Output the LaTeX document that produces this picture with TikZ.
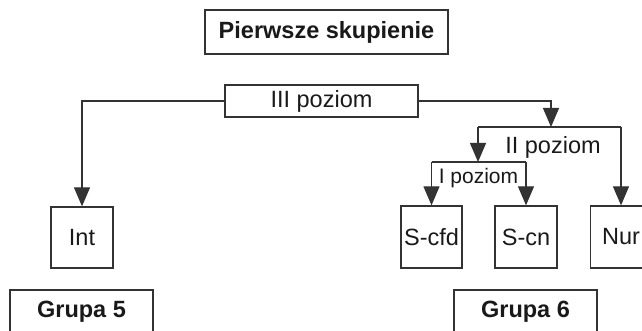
\documentclass[tikz,border=0pt]{standalone}
\usepackage{fontspec}
\setmainfont{Liberation Sans}
\usetikzlibrary{arrows.meta}

\begin{document}
\begin{tikzpicture}[x=1pt,y=-1pt,
    box/.style={draw=black!80, line width=1.3pt, inner sep=0pt, text=black!90},
    lvl/.style={inner sep=0pt, text=black!90},
    conn/.style={draw=black!80, line width=1.2pt},
    arr/.style={conn, -{Triangle[length=19pt,width=16pt]}}]
      \clip (0,0) rectangle (642,331);
      \useasboundingbox (0,0) rectangle (642,331);
      \fontsize{23.5}{28}\selectfont

      % top
      \node (skup) at (326.5,32)  [box, minimum width=243pt, minimum height=44pt, font=\bfseries] {Pierwsze skupienie};

      % III poziom
      \node (lvl3) at (321.5,101)  [box, minimum width=193pt, minimum height=32pt] {III poziom};

      % leaves
      \node (int) at (82,237.5)  [box, minimum width=62pt, minimum height=61pt] {Int};
      \node (scfd) at (431.5,237)  [box, minimum width=61pt, minimum height=62pt] {S-cfd};
      \node (scn) at (526,237)  [box, minimum width=62pt, minimum height=62pt] {S-cn};
      \node (nur) at (621,237)  [box, minimum width=61pt, minimum height=62pt] {Nur};

      % groups
      \node (gr5) at (81.5,312)  [box, minimum width=143pt, minimum height=44pt, font=\bfseries] {Grupa 5};
      \node (gr6) at (525.5,312)  [box, minimum width=143pt, minimum height=44pt, font=\bfseries] {Grupa 6};

      % II poziom, I poziom
      \coordinate (b2) at (551,127);
      \coordinate (b2l) at (478,127);
      \coordinate (b2r) at (621,127);
      \coordinate (b1) at (478,162);
      \coordinate (b1l) at (431.5,162);
      \coordinate (b1r) at (526,162);
      \node (lvl2) at (553,154)  [lvl, anchor=base] {II poziom};
      \node (lvl1) at (478.5,184)  [lvl, anchor=base, font=\fontsize{21}{25}\selectfont] {I poziom};

      \draw[arr] (lvl3.west) -| (int.north);
      \draw[arr] (lvl3.east) -| (b2);
      \draw[conn] (b2l) -- (b2r);
      \draw[arr] (b2l) -- (b1);
      \draw[arr] (b2r) -- (nur.north);
      \draw[conn] (b1l) -- (b1r);
      \draw[arr] (b1l) -- (scfd.north);
      \draw[arr] (b1r) -- (scn.north);
    \end{tikzpicture}
\end{document}
